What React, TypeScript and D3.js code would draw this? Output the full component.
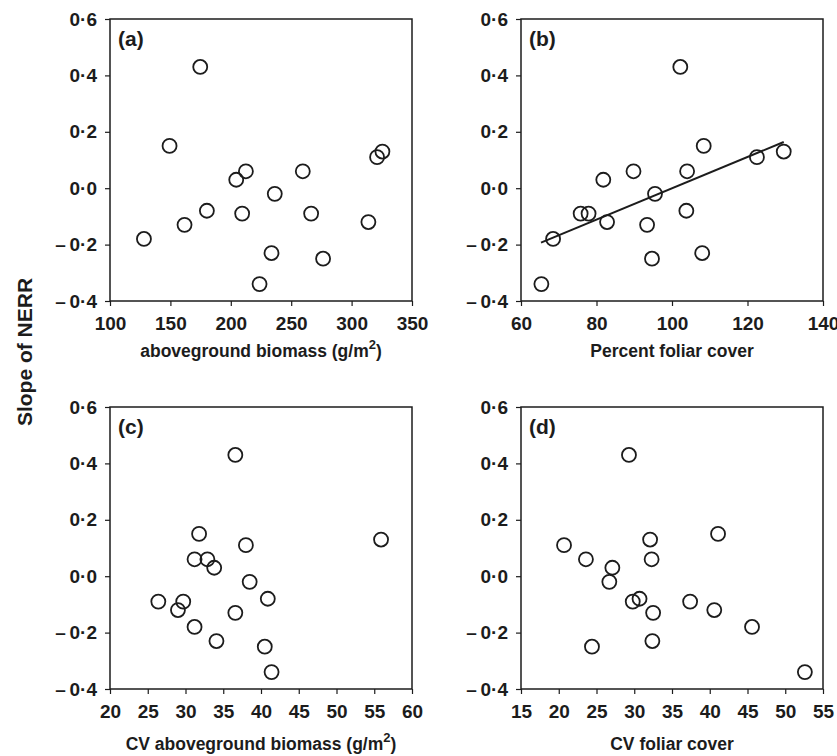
import React, { useEffect, useRef } from 'react';
import * as d3 from 'd3';

const W = 837;
const H = 756;

// (a) aboveground biomass
const biomassX = [174.7, 149.3, 128.1, 161.7, 180.2, 204.5, 212.5, 209.4, 236.4, 233.7, 223.8, 259.6, 266.5, 276.4, 313.9, 321.1, 325.5];
const biomassY = [0.43, 0.15, -0.18, -0.13, -0.08, 0.03, 0.06, -0.09, -0.02, -0.23, -0.34, 0.06, -0.09, -0.25, -0.12, 0.11, 0.13];
const biomassTicks = [100, 150, 200, 250, 300, 350];

// (b) percent foliar cover, with fitted line
const coverX = [102.2, 108.4, 122.5, 129.6, 89.8, 104.0, 81.8, 95.5, 75.8, 77.9, 82.8, 93.4, 103.8, 68.5, 94.7, 108.0, 65.4];
const coverY = [0.43, 0.15, 0.11, 0.13, 0.06, 0.06, 0.03, -0.02, -0.09, -0.09, -0.12, -0.13, -0.08, -0.18, -0.25, -0.23, -0.34];
const coverTicks = [60, 80, 100, 120, 140];
const fitX = [65.3, 129.6];
const fitY = [-0.193, 0.164];

// (c) CV aboveground biomass
const cvBiomassX = [36.6, 55.9, 31.8, 38.0, 31.2, 32.9, 33.8, 38.5, 26.4, 29.7, 29.0, 36.6, 40.9, 31.2, 34.1, 40.5, 41.4];
const cvBiomassY = [0.43, 0.13, 0.15, 0.11, 0.06, 0.06, 0.03, -0.02, -0.09, -0.09, -0.12, -0.13, -0.08, -0.18, -0.23, -0.25, -0.34];
const cvBiomassTicks = [20, 25, 30, 35, 40, 45, 50, 55, 60];

// (d) CV foliar cover
const cvCoverX = [29.3, 41.1, 20.7, 32.1, 23.6, 32.3, 27.1, 26.7, 29.8, 30.7, 37.4, 40.6, 32.5, 45.6, 32.4, 24.4, 52.6];
const cvCoverY = [0.43, 0.15, 0.11, 0.13, 0.06, 0.06, 0.03, -0.02, -0.09, -0.08, -0.09, -0.12, -0.13, -0.18, -0.23, -0.25, -0.34];
const cvCoverTicks = [15, 20, 25, 30, 35, 40, 45, 50, 55];

const yTicks = [-0.4, -0.2, 0, 0.2, 0.4, 0.6];

const ink = '#1c1c1c';
const font = '"Liberation Sans", Arial, sans-serif';

// 0·2 style, with a wide dash for negatives
const fmtY = (d: number) => (d < 0 ? '\u2013\u2009' : '') + Math.abs(d).toFixed(1).replace('.', '\u00b7');

export default function App() {
  const svgRef = useRef<SVGSVGElement>(null);

  useEffect(() => {
    const svg = d3.select(svgRef.current);
    svg.selectAll('*').remove();

    const pw = 302;
    const ph = 282;

    const panels = [
      { key: '(a)', left: 110, top: 19, xs: biomassX, ys: biomassY, ticks: biomassTicks, title: 'aboveground biomass (g/m', sup: true, titleY: 357 },
      { key: '(b)', left: 521, top: 19, xs: coverX, ys: coverY, ticks: coverTicks, title: 'Percent foliar cover', sup: false, titleY: 357, fit: true },
      { key: '(c)', left: 110, top: 407, xs: cvBiomassX, ys: cvBiomassY, ticks: cvBiomassTicks, title: 'CV aboveground biomass (g/m', sup: true, titleY: 750 },
      { key: '(d)', left: 521, top: 407, xs: cvCoverX, ys: cvCoverY, ticks: cvCoverTicks, title: 'CV foliar cover', sup: false, titleY: 750 },
    ];

    panels.forEach(p => {
      const x = d3.scaleLinear()
        .domain([p.ticks[0], p.ticks[p.ticks.length - 1]])
        .range([0, pw]);
      const y = d3.scaleLinear().domain([-0.4, 0.6]).range([ph, 0]);

      const g = svg.append('g').attr('transform', `translate(${p.left},${p.top})`);

      const xaxis = g.append('g')
        .attr('transform', `translate(0,${ph})`)
        .call(d3.axisBottom(x).tickValues(p.ticks).tickSize(5).tickPadding(11).tickFormat(d3.format('d')));
      xaxis.select('.domain').remove();
      xaxis.selectAll('line').attr('stroke', ink).attr('stroke-width', 1.2);
      xaxis.selectAll('text')
        .attr('fill', ink)
        .attr('font-size', 19)
        .attr('font-weight', 'bold')
        .attr('font-family', font);

      const yaxis = g.append('g')
        .call(d3.axisLeft(y).tickValues(yTicks).tickSize(5).tickPadding(8).tickFormat(d => fmtY(+d)));
      yaxis.select('.domain').remove();
      yaxis.selectAll('line').attr('stroke', ink).attr('stroke-width', 1.2);
      yaxis.selectAll('text')
        .attr('fill', ink)
        .attr('font-size', 19)
        .attr('font-weight', 'bold')
        .attr('font-family', font);

      g.append('rect')
        .attr('width', pw)
        .attr('height', ph)
        .attr('fill', 'none')
        .attr('stroke', ink)
        .attr('stroke-width', 1.5);

      if (p.fit) {
        const line = d3.line<number>()
          .x(d => x(d))
          .y((_, i) => y(fitY[i]));
        g.append('path')
          .datum(fitX)
          .attr('d', line)
          .attr('fill', 'none')
          .attr('stroke', ink)
          .attr('stroke-width', 2);
      }

      g.selectAll('circle')
        .data(p.xs)
        .join('circle')
        .attr('cx', d => x(d))
        .attr('cy', (_, i) => y(p.ys[i]))
        .attr('r', 7)
        .attr('fill', 'none')
        .attr('stroke', ink)
        .attr('stroke-width', 1.8);

      g.append('text')
        .attr('x', 8)
        .attr('y', 27)
        .attr('fill', ink)
        .attr('font-size', 21)
        .attr('font-weight', 'bold')
        .attr('font-family', font)
        .text(p.key);

      const t = svg.append('text')
        .attr('x', p.left + pw / 2)
        .attr('y', p.titleY)
        .attr('text-anchor', 'middle')
        .attr('fill', ink)
        .attr('font-size', 17.5)
        .attr('font-weight', 'bold')
        .attr('font-family', font);
      t.append('tspan').text(p.title);
      if (p.sup) {
        t.append('tspan').attr('dy', -8).attr('font-size', 13).text('2');
        t.append('tspan').attr('dy', 8).text(')');
      }
    });

    svg.append('text')
      .attr('transform', `translate(32,352) rotate(-90)`)
      .attr('text-anchor', 'middle')
      .attr('fill', ink)
      .attr('font-size', 21)
      .attr('font-weight', 'bold')
      .attr('font-family', font)
      .text('Slope of NERR');
  }, []);

  return (
    <svg
      ref={svgRef}
      width={W}
      height={H}
      style={{ position: 'absolute', left: 0, top: 0, background: '#fff' }}
    />
  );
}
